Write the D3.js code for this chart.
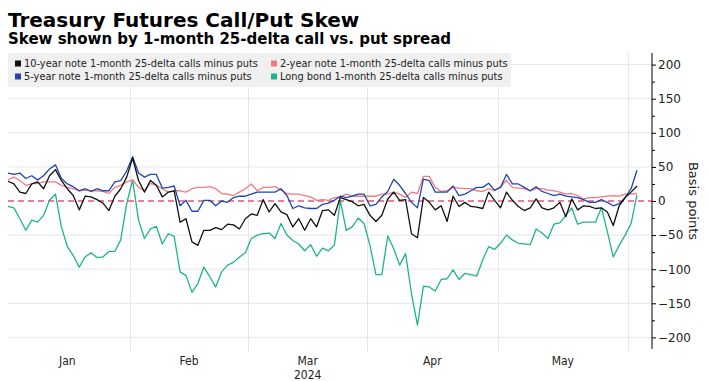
<!DOCTYPE html>
<html><head><meta charset="utf-8">
<script src="https://cdn.jsdelivr.net/npm/d3@7"></script>
<style>body{margin:0;background:#fff}svg{display:block}</style>
</head><body>
<svg id="chart" width="709" height="381"></svg>
<script>
const titleText = "Treasury Futures Call/Put Skew";
const subtitleText = "Skew shown by 1-month 25-delta call vs. put spread";
const months = ["Jan","Feb","Mar","Apr","May"];
const tradingDaysPerMonth = [21,20,20,22,22,2];
const yearLabel = "2024";
const yTicks = [200,150,100,50,0,-50,-100,-150,-200];
const yMinorTicks = [175,125,75,25,-25,-75,-125,-175];
const yAxisTitle = "Basis points";
const seriesNames = [
  "10-year note 1-month 25-delta calls minus puts",
  "2-year note 1-month 25-delta calls minus puts",
  "5-year note 1-month 25-delta calls minus puts",
  "Long bond 1-month 25-delta calls minus puts"
];
const tenYear = [29,25,13,11,25,28,18,37,46,30,18,8,-13,7,6,2,-3,-14,7,18,35,63,30,13,30,23,6,13,15,-31,-26,-60,-65,-43,-43,-39,-42,-34,-35,-41,-26,-19,-21,2,-16,-4,-16,-20,-38,-26,-43,-26,-38,-14,-13,-21,5,2,-1,-7,-5,-21,-30,-21,3,13,1,2,-48,-54,5,-2,-13,-7,-30,7,-8,-2,-8,-9,-11,13,1,-10,13,1,-8,-14,-10,3,-10,-13,-10,-2,-23,3,-13,-7,-8,-11,-10,-16,-36,-7,5,13,22];
const twoYear = [31,35,30,23,25,26,28,28,28,23,20,18,15,16,15,15,14,11,20,23,28,31,20,15,26,23,18,13,15,15,13,18,20,20,21,18,11,10,8,13,18,25,15,20,20,21,16,11,10,10,8,6,1,2,1,5,6,10,7,7,7,7,7,10,10,13,10,5,13,11,36,36,20,14,15,20,19,18,18,15,14,18,15,21,30,20,19,18,15,18,18,16,15,13,10,11,8,3,5,5,6,7,8,7,10,10,11];
const fiveYear = [41,39,41,33,37,31,37,47,53,33,25,21,15,18,14,18,15,15,28,30,44,65,41,35,39,39,19,20,22,-7,1,-15,-15,1,1,-7,0,-2,5,7,7,10,13,13,13,13,18,8,-11,-7,-10,-11,-11,-5,-3,1,7,5,7,10,10,-7,-5,6,14,32,23,11,-2,-10,32,30,13,13,13,22,8,10,15,20,20,26,16,20,39,25,25,20,15,21,14,11,8,10,7,6,5,2,-2,-2,2,-2,-7,-4,5,18,45];
const longBond = [-8,-10,-26,-43,-28,-31,-21,1,10,-38,-67,-80,-97,-82,-76,-83,-82,-74,-74,-57,-4,31,-28,-55,-41,-37,-63,-48,-52,-104,-109,-134,-121,-97,-111,-126,-104,-94,-90,-82,-76,-55,-50,-48,-47,-55,-33,-50,-58,-63,-73,-64,-81,-69,-73,-65,1,-43,-38,-25,-33,-65,-108,-108,-51,-70,-94,-77,-136,-182,-125,-126,-132,-115,-114,-101,-115,-106,-108,-110,-86,-67,-71,-62,-50,-57,-62,-63,-64,-41,-47,-55,-34,-32,-21,-10,-34,-31,-31,-31,-10,-45,-82,-65,-50,-33,9];

const series = [
  {name: seriesNames[0], values: tenYear, color: "#111111"},
  {name: seriesNames[1], values: twoYear, color: "#ee7b80"},
  {name: seriesNames[2], values: fiveYear, color: "#1f45b0"},
  {name: seriesNames[3], values: longBond, color: "#1fb38e"}
];

const svg = d3.select("#chart");
const nPts = tenYear.length;
const x = d3.scaleLinear().domain([0, nPts - 1]).range([8, 637]);
const y = d3.scaleLinear().domain([-217, 217]).range([349, 53]);
const plotLeft = 8, plotRight = 652;

// month boundaries from trading day counts
const bounds = [];
let acc = 0;
tradingDaysPerMonth.forEach(c => { acc += c; bounds.push(acc - 0.5); });
const monthStartsIdx = [-0.5].concat(bounds);

// horizontal grid
svg.append("g").selectAll("line").data(yTicks.filter(d => d !== 0)).join("line")
  .attr("x1", plotLeft).attr("x2", plotRight)
  .attr("y1", d => y(d)).attr("y2", d => y(d))
  .attr("stroke", "#e6e6e6").attr("stroke-width", 1);
// vertical grid at month boundaries
svg.append("g").selectAll("line").data(bounds.slice(0, 5)).join("line")
  .attr("x1", d => Math.round(x(d)) + 0.5).attr("x2", d => Math.round(x(d)) + 0.5)
  .attr("y1", 53).attr("y2", 352)
  .attr("stroke", "#e6e6e6").attr("stroke-width", 1);

// legend box
const lg = svg.append("g");
lg.append("rect").attr("x", 8).attr("y", 53).attr("width", 503).attr("height", 34).attr("fill", "#f0f0f0");
const legendOrder = [0, 1, 2, 3];
legendOrder.forEach((si, k) => {
  const col = k % 2, row = Math.floor(k / 2);
  const lx = col === 0 ? 15 : 271;
  const ly = row === 0 ? 67 : 80;
  const s = k === 0 ? series[0] : k === 1 ? series[1] : k === 2 ? series[2] : series[3];
  lg.append("rect").attr("x", lx).attr("y", ly - 6.5).attr("width", 6).attr("height", 6).attr("fill", s.color);
  lg.append("text").attr("x", lx + 9).attr("y", ly)
    .attr("font-family", "DejaVu Sans").attr("font-size", 9.8).attr("fill", "#222").text(s.name);
});

// zero line
svg.append("line").attr("x1", plotLeft).attr("x2", plotRight)
  .attr("y1", y(0)).attr("y2", y(0))
  .attr("stroke", "#e0587a").attr("stroke-width", 1.5).attr("stroke-dasharray", "6,4");

// lines
const line = d3.line().x((d, i) => x(i)).y(d => y(d));
[series[3], series[1], series[2], series[0]].forEach(s => {
  svg.append("path").datum(s.values).attr("d", line)
    .attr("fill", "none").attr("stroke", s.color).attr("stroke-width", 1.3)
    .attr("stroke-linejoin", "round");
});

// right axis
const axis = svg.append("g").attr("transform", `translate(${plotRight},0)`)
  .call(d3.axisRight(y).tickValues(yTicks).tickSize(4).tickPadding(2).tickFormat(d3.format("d")));
axis.select(".domain").attr("stroke", "#000").attr("d", `M0,53V349`);
axis.selectAll(".tick line").attr("stroke", "#000");
axis.selectAll("text").attr("font-family", "DejaVu Sans").attr("font-size", 12).attr("fill", "#222");
const minor = svg.append("g").attr("transform", `translate(${plotRight},0)`)
  .call(d3.axisRight(y).tickValues(yMinorTicks).tickSize(3).tickFormat(""));
minor.select(".domain").remove();
minor.selectAll(".tick line").attr("stroke", "#000");

svg.append("text").attr("transform", `translate(689,${y(0)}) rotate(90)`)
  .attr("text-anchor", "middle").attr("font-family", "DejaVu Sans").attr("font-size", 13)
  .attr("fill", "#222").text(yAxisTitle);

// month labels
months.forEach((m, i) => {
  const mid = (monthStartsIdx[i] + monthStartsIdx[i + 1]) / 2;
  svg.append("text").attr("x", x(mid)).attr("y", 365).attr("text-anchor", "middle")
    .attr("font-family", "DejaVu Sans Condensed").attr("font-size", 12).attr("fill", "#222").text(m);
});
svg.append("text").attr("x", x(monthStartsIdx[2] + 10)).attr("y", 379).attr("text-anchor", "middle")
  .attr("font-family", "DejaVu Sans Condensed").attr("font-size", 12).attr("fill", "#222").text(yearLabel);

// titles
svg.append("text").attr("x", 8).attr("y", 27).attr("font-family", "DejaVu Sans").attr("font-weight", "bold")
  .attr("font-size", 20).attr("fill", "#000").text(titleText);
svg.append("text").attr("x", 8).attr("y", 44).attr("font-family", "DejaVu Sans").attr("font-weight", "bold")
  .attr("font-size", 15).attr("fill", "#000").text(subtitleText);
</script>
</body></html>
